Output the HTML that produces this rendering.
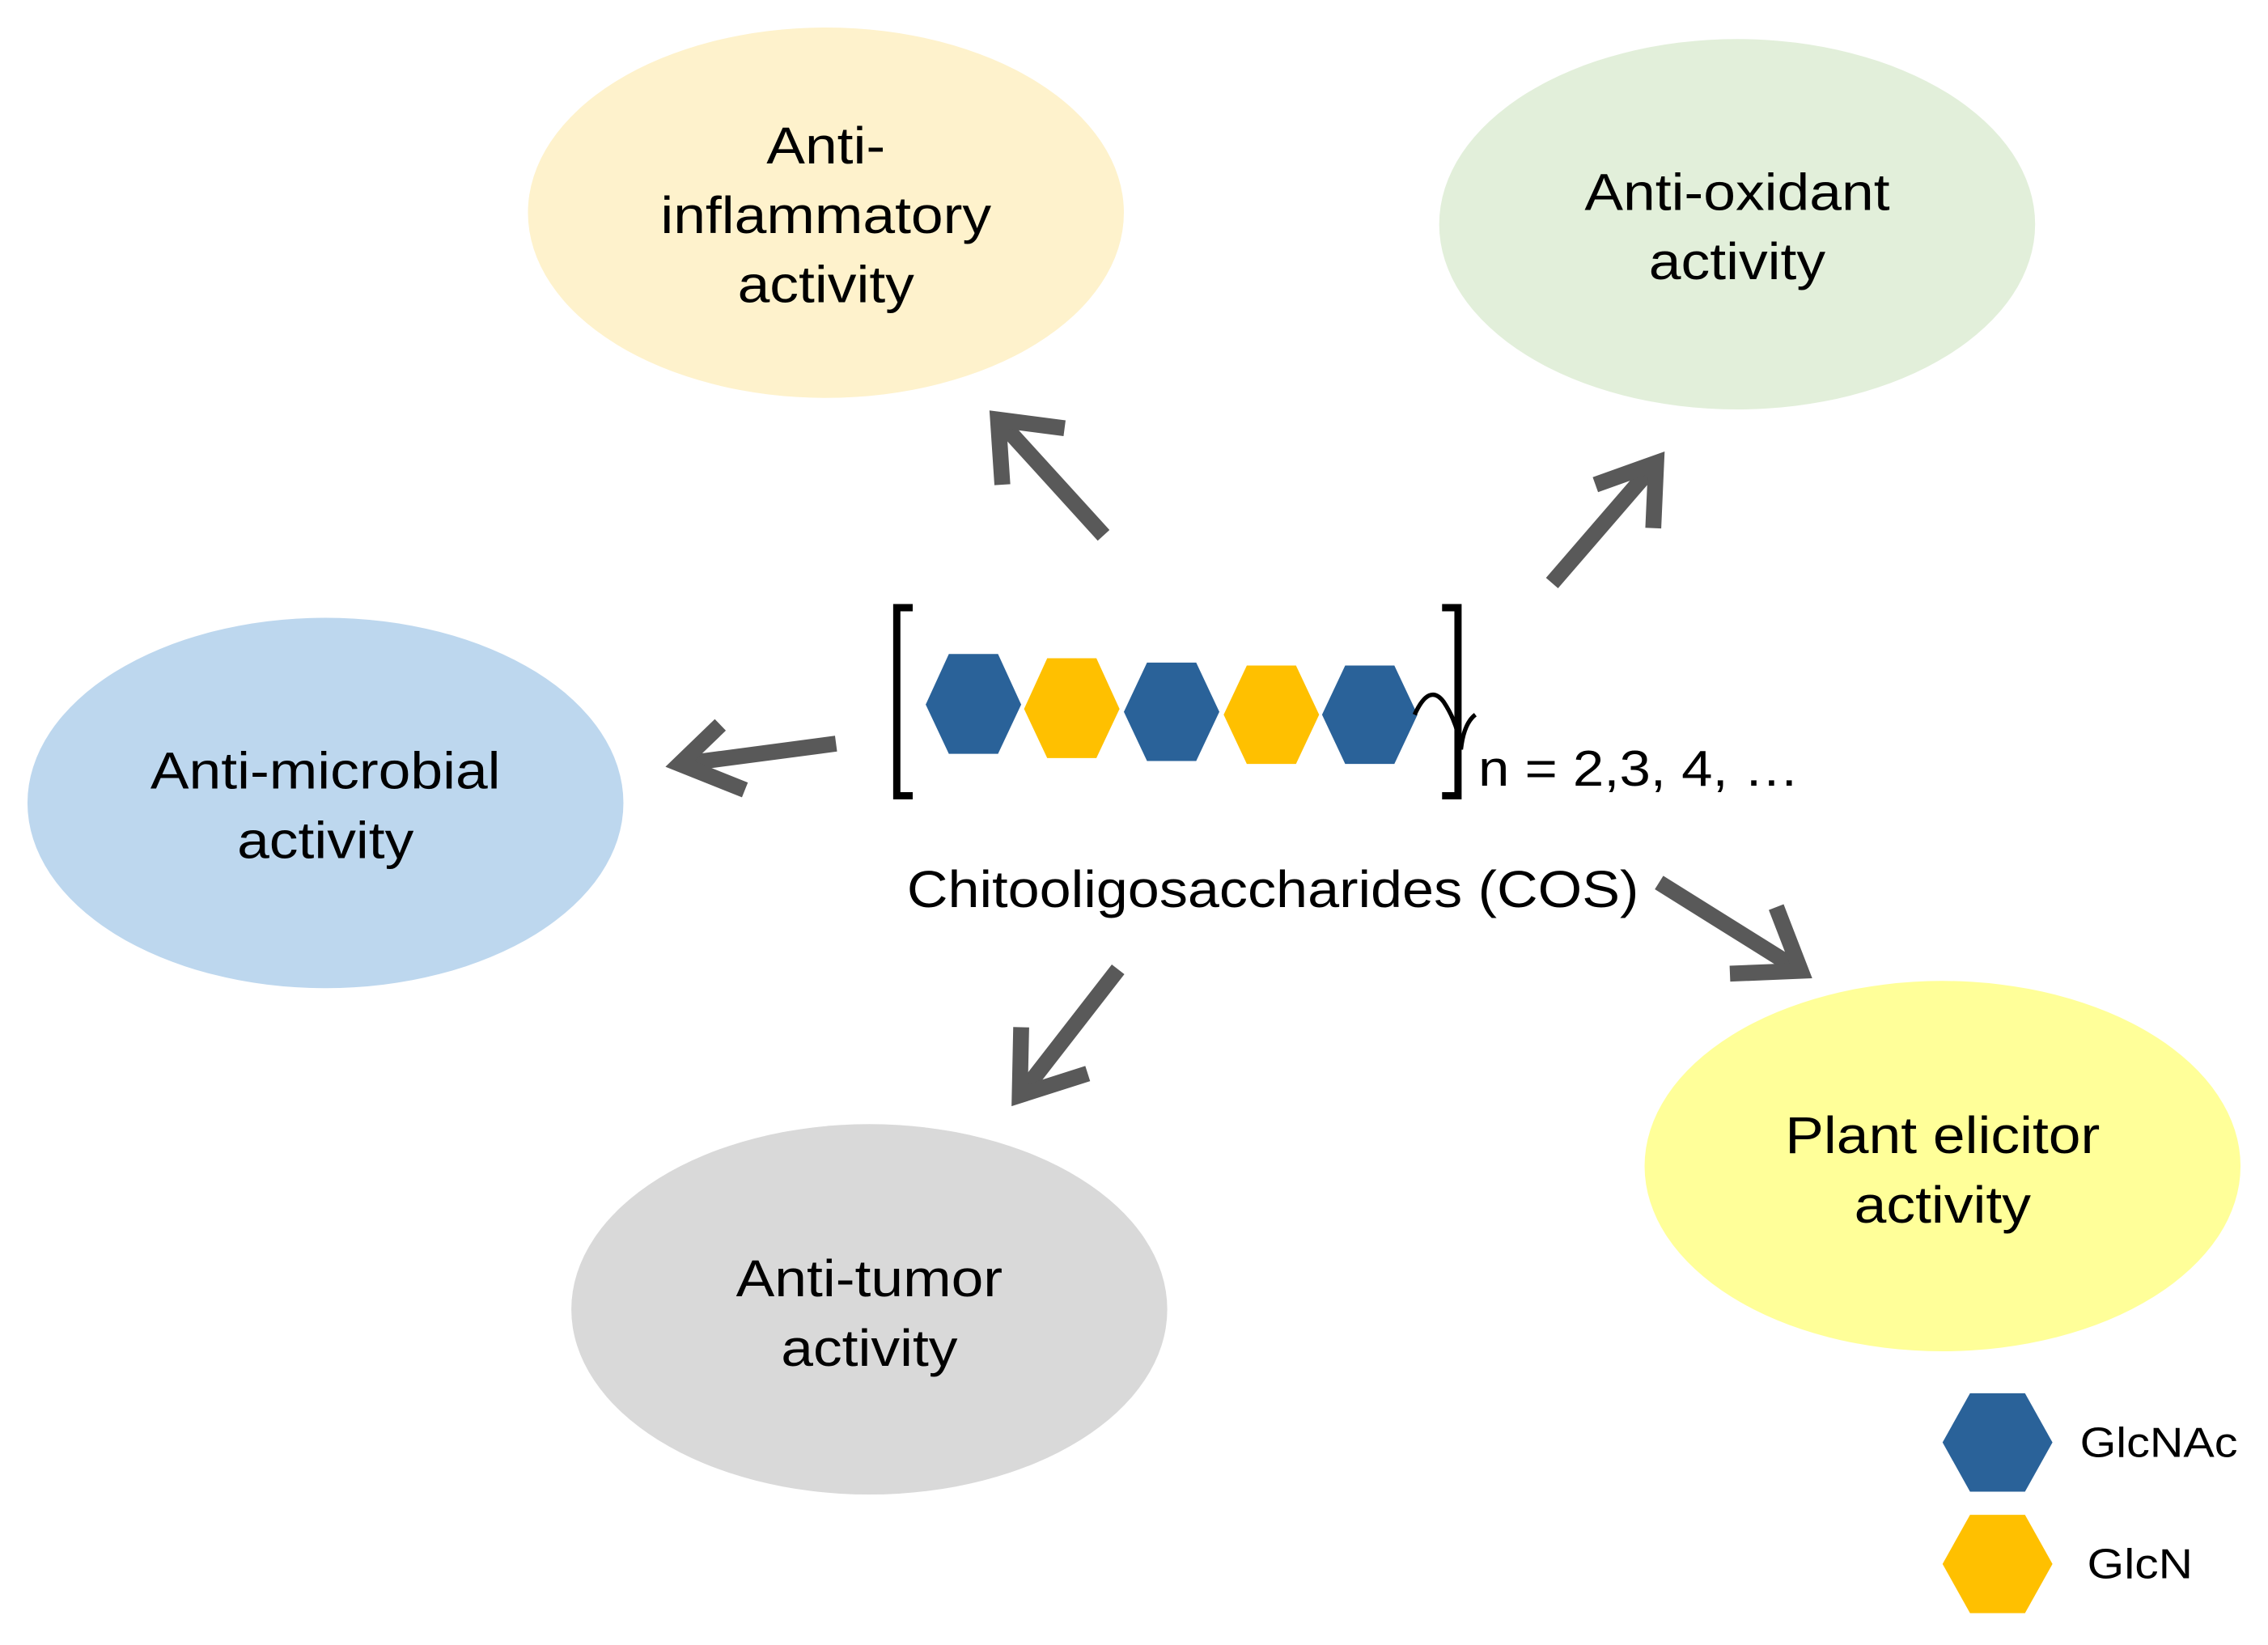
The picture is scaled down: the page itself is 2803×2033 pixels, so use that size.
<!DOCTYPE html>
<html><head><meta charset="utf-8"><style>
html,body{margin:0;padding:0;background:#fff;}
svg{display:block;}
text{font-family:"Liberation Sans",Arial,sans-serif;fill:#000;}
</style></head><body>
<svg width="2803" height="2033" viewBox="0 0 1568 1137" preserveAspectRatio="none" xmlns="http://www.w3.org/2000/svg">
<ellipse cx="571" cy="147" rx="206" ry="128" fill="#fef2cc"/>
<ellipse cx="1201" cy="155" rx="206" ry="128" fill="#e2efda"/>
<ellipse cx="225" cy="555" rx="206" ry="128" fill="#bdd7ee"/>
<ellipse cx="601" cy="905" rx="206" ry="128" fill="#d9d9d9"/>
<ellipse cx="1343" cy="806" rx="206" ry="128" fill="#ffff99"/>
<g font-size="36" text-anchor="middle">
<g transform="translate(571,0) scale(1.11,1)">
<text x="0" y="113">Anti-</text>
<text x="0" y="161">inflammatory</text>
<text x="0" y="209">activity</text></g>
<g transform="translate(1201,0) scale(1.11,1)">
<text x="0" y="145">Anti-oxidant</text>
<text x="0" y="193">activity</text></g>
<g transform="translate(225,0) scale(1.11,1)">
<text x="0" y="545">Anti-microbial</text>
<text x="0" y="593">activity</text></g>
<g transform="translate(601,0) scale(1.11,1)">
<text x="0" y="896">Anti-tumor</text>
<text x="0" y="944">activity</text></g>
<g transform="translate(1343,0) scale(1.11,1)">
<text x="0" y="797">Plant elicitor</text>
<text x="0" y="845">activity</text></g>
</g>
<g stroke="#595959" stroke-width="11" fill="none" stroke-linejoin="miter">
<line x1="763" y1="370" x2="692" y2="292"/>
<polyline points="693,335 690,290 736,296"/>
<line x1="1073" y1="403" x2="1143" y2="322"/>
<polyline points="1103,335 1145,320 1143,365"/>
<line x1="578" y1="514" x2="472" y2="528"/>
<polyline points="498,501 470,528 515,546"/>
<line x1="773" y1="670" x2="707" y2="755"/>
<polyline points="706,710 705,757 752,742"/>
<line x1="1147" y1="610" x2="1243" y2="670"/>
<polyline points="1228,627 1245,671 1196,673"/>
</g>
<g fill="none" stroke="#000" stroke-width="5">
<polyline points="631,420 620,420 620,550 631,550"/>
<polyline points="997,420 1008,420 1008,550 997,550"/>
</g>
<g>
<polygon points="640,487 656,452 690,452 706,487 690,521 656,521" fill="#2a6299"/>
<polygon points="708,490 724,455 758,455 774,490 758,524 724,524" fill="#ffc000"/>
<polygon points="777,492 793,458 827,458 843,492 827,526 793,526" fill="#2a6299"/>
<polygon points="846,494 862,460 896,460 912,494 896,528 862,528" fill="#ffc000"/>
<polygon points="914,494 930,460 964,460 980,494 964,528 930,528" fill="#2a6299"/>
</g>
<path d="M978,494 Q988,472 998,485 Q1008,500 1010,518 Q1012,500 1020,494" fill="none" stroke="#000" stroke-width="3"/>
<text x="1022" y="543" font-size="35" textLength="222" lengthAdjust="spacingAndGlyphs">n = 2,3, 4, …</text>
<text x="627" y="627" font-size="36" textLength="506" lengthAdjust="spacingAndGlyphs">Chitooligosaccharides (COS)</text>
<polygon points="1343,997 1362,963 1400,963 1419,997 1400,1031 1362,1031" fill="#2a6299"/>
<polygon points="1343,1081 1362,1047 1400,1047 1419,1081 1400,1115 1362,1115" fill="#ffc000"/>
<text x="1438" y="1007" font-size="29" textLength="109" lengthAdjust="spacingAndGlyphs">GlcNAc</text>
<text x="1443" y="1091" font-size="29" textLength="73" lengthAdjust="spacingAndGlyphs">GlcN</text>
</svg>
</body></html>
